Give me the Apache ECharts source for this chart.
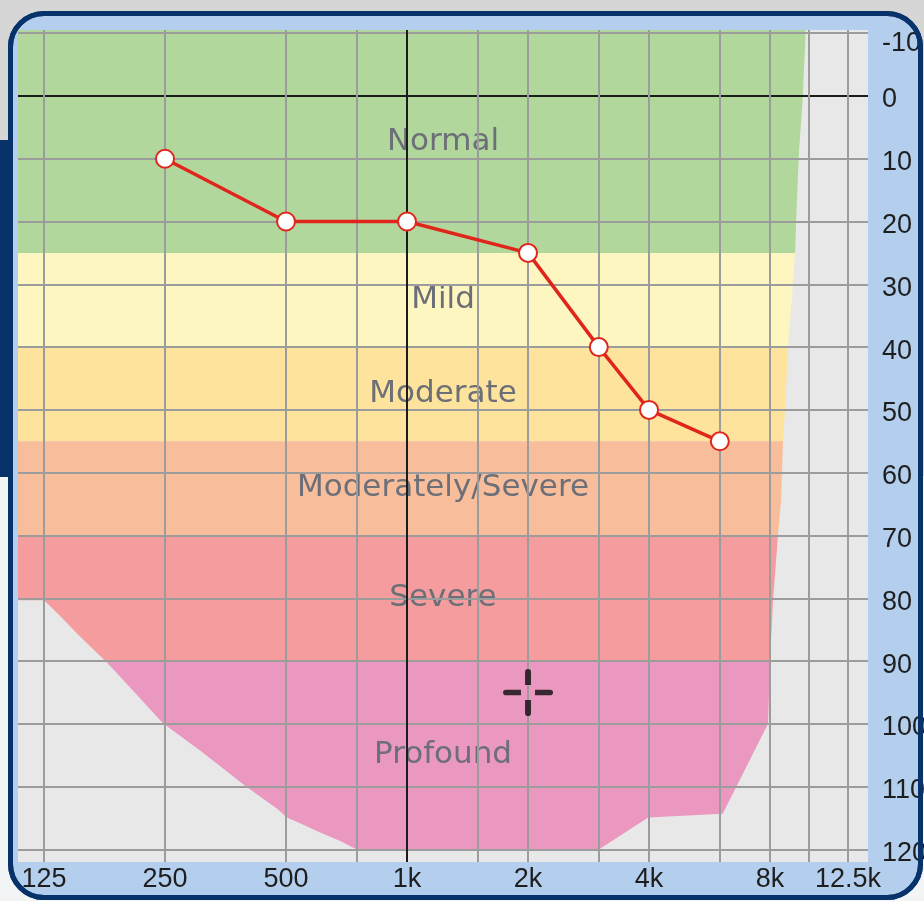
<!DOCTYPE html>
<html>
<head>
<meta charset="utf-8">
<script src="https://cdn.jsdelivr.net/npm/echarts@6/dist/echarts.min.js"></script>
<style>
html,body{margin:0;padding:0;}
body{width:924px;height:901px;position:relative;overflow:hidden;
  background:linear-gradient(to bottom,#d6d6d6 0,#d6d6d6 476px,#f3f4f6 476px,#f3f4f6 100%);}
#navy{position:absolute;left:0;top:140px;width:14px;height:337px;background:#07326a;}
#frame{position:absolute;left:8px;top:11px;width:915px;height:889px;box-sizing:border-box;
  border:5px solid #07326a;border-radius:36px;background:#b4cfee;}
#frameTop{position:absolute;left:8px;top:11px;width:915px;height:889px;box-sizing:border-box;
  border:5px solid #07326a;border-radius:36px;background:transparent;pointer-events:none;}
#c{position:absolute;left:0;top:0;width:924px;height:901px;}
</style>
</head>
<body>
<div id="navy"></div>
<div id="frame"></div>
<div id="c"></div>
<div id="frameTop"></div>
<script>
// ---- data ----
const freqs = [250, 500, 1000, 2000, 3000, 4000, 6000];
const thresholds = [10, 20, 20, 25, 40, 50, 55];
const gridFreqs = [125, 250, 500, 750, 1000, 1500, 2000, 3000, 4000, 6000, 8000, 10000, 12500];
const labelFreqs = [125, 250, 500, 1000, 2000, 4000, 8000, 12500];
const dbTicks = [-10, 0, 10, 20, 30, 40, 50, 60, 70, 80, 90, 100, 110, 120];
const bandNames = ['Normal', 'Mild', 'Moderate', 'Moderately/Severe', 'Severe', 'Profound'];
const bandFrom = [-10.5, 25, 40, 55, 70, 90];
const bandTo = [25, 40, 55, 70, 90, 120];
const bandColors = ['#b2d79c', '#fdf6c0', '#fde39c', '#f8bd9a', '#f49c9e', '#eb98c1'];
// outline of the coloured hearing area (freq Hz, dB HL)
const envelopeRight = [[9815, -10.5], [9645, 0.6], [9450, 8.6], [9330, 16.6], [9240, 24.5], [9130, 29.3],
  [9060, 32.5], [8870, 40], [8720, 50], [8620, 54.8], [8520, 64.4], [8370, 70], [8140, 80.3], [8000, 90],
  [7910, 100], [6100, 114.3], [3980, 114.9], [3000, 120]];
const envelopeLeft = [[750, 120], [680, 118.6], [608, 117.3], [540, 115.8], [503, 114.9], [475, 113.5],
  [400, 110.1], [350, 107.2], [305, 104.2], [275, 102.1], [247, 99.9], [208, 94.7], [179, 90.2],
  [151, 85.6], [137, 82.8], [125, 80.3]];
const crossMark = [[2000, 95]];

const X_MIN = 107.7, X_MAX = 14022, Y_MIN = -10.5, Y_MAX = 122;
const fmtFreq = v => v >= 1000 ? (v / 1000) + 'k' : String(v);
const labelFont = '"Liberation Sans Narrow", "Liberation Sans", Arial, sans-serif';

const chart = echarts.init(document.getElementById('c'), null, {renderer: 'canvas'});

chart.setOption({
  animation: false,
  grid: {left: 18, right: 56, top: 30, bottom: 39, show: true, backgroundColor: '#e8e8e8', borderWidth: 0,
    containLabel: false, outerBoundsMode: 'none'},
  xAxis: {
    type: 'log', logBase: 2, min: X_MIN, max: X_MAX, z: 10,
    axisLine: {show: false},
    axisTick: {show: false, customValues: gridFreqs},
    splitLine: {show: true, lineStyle: {width: 2, color: gridFreqs.map(f => f === 1000 ? '#1c1c1c' : '#9c9c9c')}},
    axisLabel: {customValues: labelFreqs, formatter: fmtFreq, fontFamily: labelFont, fontSize: 27,
      color: '#1e1e1e', margin: 4}
  },
  yAxis: {
    type: 'value', inverse: true, min: Y_MIN, max: Y_MAX, position: 'right', z: 10,
    axisLine: {show: false},
    axisTick: {show: false, customValues: dbTicks},
    splitLine: {show: true, lineStyle: {width: 2, color: dbTicks.map(v => v === 0 ? '#1c1c1c' : '#9c9c9c')}},
    axisLabel: {customValues: dbTicks, margin: 14, align: 'left',
      formatter: v => (v === -10 ? '{t|' : '{n|') + v + '}',
      rich: {
        t: {fontFamily: labelFont, fontSize: 27, color: '#1e1e1e', padding: [20, 0, 0, 0]},
        n: {fontFamily: labelFont, fontSize: 27, color: '#1e1e1e', padding: [8, 0, 0, 0]}
      }}
  },
  series: [
    {
      type: 'custom', name: 'bands', z: 1, silent: true,
      encode: {x: 2, y: [0, 1]},
      data: bandFrom.map((f, i) => [f, bandTo[i], 1000]),
      renderItem: (params, api) => {
        const cs = params.coordSys;
        const yA = api.coord([1000, api.value(0)])[1];
        const yB = api.coord([1000, api.value(1)])[1];
        const i = params.dataIndex;
        return {type: 'group', children: [
          {type: 'rect', shape: {x: cs.x, y: Math.min(yA, yB), width: cs.width, height: Math.abs(yB - yA)},
            style: {fill: bandColors[i]}},
          {type: 'text', x: cs.x + cs.width / 2, y: (yA + yB) / 2,
            style: {text: bandNames[i], fill: '#6c6f77', font: '31px "DejaVu Sans", sans-serif',
              align: 'center', verticalAlign: 'middle'}}
        ]};
      }
    },
    {
      type: 'custom', name: 'outside', z: 2, silent: true,
      encode: {x: 0, y: 1},
      data: [[1000, 0]],
      renderItem: (params, api) => {
        const cs = params.coordSys;
        const right = cs.x + cs.width, bottom = cs.y + cs.height;
        const pts = [[right, cs.y]];
        envelopeRight.forEach(p => pts.push(api.coord(p)));
        envelopeLeft.forEach(p => pts.push(api.coord(p)));
        const lastY = api.coord(envelopeLeft[envelopeLeft.length - 1])[1];
        pts.push([cs.x, lastY], [cs.x, bottom], [right, bottom]);
        return {type: 'polygon', shape: {points: pts}, style: {fill: '#e8e8e8'}};
      }
    },
    {
      type: 'line', name: 'threshold', z: 20,
      data: freqs.map((f, i) => [f, thresholds[i]]),
      symbol: 'circle', symbolSize: 18, showAllSymbol: true,
      lineStyle: {color: '#e0261c', width: 3.5},
      itemStyle: {color: '#ffffff', borderColor: '#e0261c', borderWidth: 2}
    },
    {
      type: 'scatter', name: 'cursor', z: 21, silent: true,
      data: crossMark,
      symbol: 'path://M22,3 Q22,0 25,0 Q28,0 28,3 L28,17 L22,17 Z M22,33 L28,33 L28,47 Q28,50 25,50 Q22,50 22,47 Z M3,22 L18,22 L18,28 L3,28 Q0,28 0,25 Q0,22 3,22 Z M32,22 L47,22 Q50,22 50,25 Q50,28 47,28 L32,28 Z',
      symbolSize: [50, 47],
      itemStyle: {color: '#0c0c0c'}
    }
  ]
});
</script>
</body>
</html>
